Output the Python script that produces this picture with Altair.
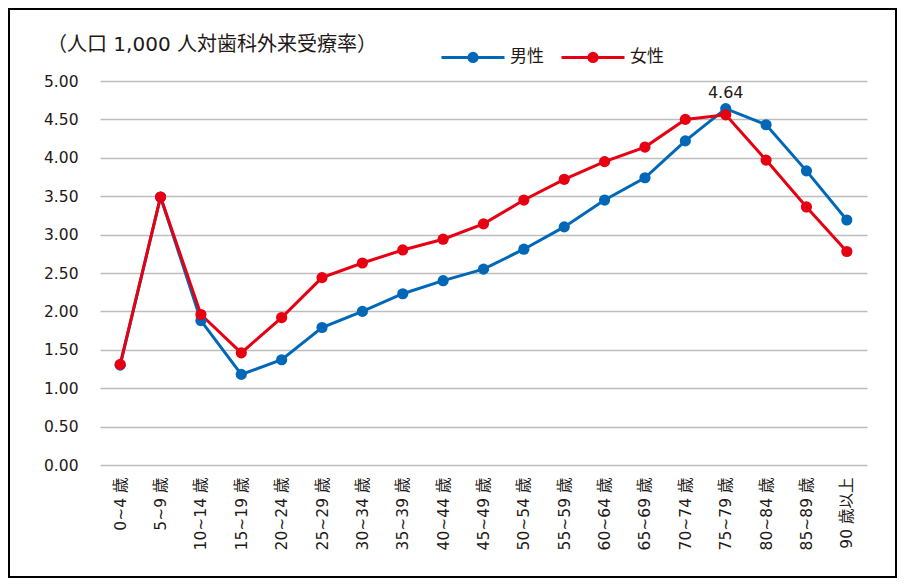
import altair as alt
import pandas as pd

ages = ["0~4 歳", "5~9 歳", "10~14 歳", "15~19 歳", "20~24 歳", "25~29 歳",
        "30~34 歳", "35~39 歳", "40~44 歳", "45~49 歳", "50~54 歳", "55~59 歳",
        "60~64 歳", "65~69 歳", "70~74 歳", "75~79 歳", "80~84 歳", "85~89 歳",
        "90 歳以上"]
male = [1.30, 3.49, 1.88, 1.18, 1.37, 1.79, 2.00, 2.23, 2.40, 2.55, 2.81, 3.10,
        3.45, 3.74, 4.22, 4.64, 4.43, 3.83, 3.19]
female = [1.31, 3.49, 1.96, 1.46, 1.92, 2.44, 2.63, 2.80, 2.94, 3.14, 3.45, 3.72,
          3.95, 4.14, 4.50, 4.56, 3.97, 3.36, 2.78]
series = ["男性", "女性"]
colors = ["#0068b7", "#e60012"]
y_ticks = [0.0, 0.5, 1.0, 1.5, 2.0, 2.5, 3.0, 3.5, 4.0, 4.5, 5.0]
title_text = "（人口 1,000 人対歯科外来受療率）"
label_age = "75~79 歳"
label_series = "男性"

rows = []
for s, vals in zip(series, [male, female]):
    for a, v in zip(ages, vals):
        rows.append({"age": a, "sex": s, "value": v})
df = pd.DataFrame(rows)

FONT = "DejaVu Sans, Noto Sans CJK JP, sans-serif"
LFONT = "Noto Sans CJK JP, sans-serif"
TXT = "#231815"
SYMBOL = "M-1,0H1M0.13,0A0.13,0.13,0,1,1,-0.13,0A0.13,0.13,0,1,1,0.13,0Z"


def make_legend():
    return alt.Legend(title=None, orient="none", legendX=340, legendY=-57,
                      direction="horizontal", symbolType=SYMBOL,
                      symbolSize=3969, symbolStrokeWidth=3, symbolOpacity=1,
                      labelFontSize=17, labelFont=LFONT, labelColor=TXT,
                      labelOffset=4, columnPadding=11, padding=0)


x_enc = alt.X("age:N", sort=ages, scale=alt.Scale(domain=ages),
              axis=alt.Axis(title=None, labelAngle=-90, labelPadding=12,
                            ticks=False, domain=False, grid=False,
                            labelFontSize=15.5, labelFont=FONT, labelColor=TXT))
y_enc = alt.Y("value:Q", scale=alt.Scale(domain=[0, 5], nice=False),
              axis=alt.Axis(title=None, values=y_ticks, format=".2f",
                            ticks=False, domain=False, labelPadding=22,
                            grid=True, gridColor="#bdbdbd", gridWidth=1.6,
                            labelFontSize=15.5, labelFont=FONT, labelColor=TXT))

base = alt.Chart(df)

lines = base.mark_line(strokeWidth=3).encode(
    x=x_enc, y=y_enc,
    stroke=alt.Stroke("sex:N", scale=alt.Scale(domain=series, range=colors),
                      legend=make_legend()),
)

points = base.mark_point(filled=True, size=125, opacity=1).encode(
    x=x_enc, y=y_enc,
    fill=alt.Fill("sex:N", scale=alt.Scale(domain=series, range=colors),
                  legend=make_legend()),
)

label = base.mark_text(baseline="bottom", dy=-8, fontSize=16, font=FONT, color=TXT).encode(
    x=x_enc, y=y_enc, text=alt.Text("value:Q", format=".2f"),
).transform_filter(
    (alt.datum.age == label_age) & (alt.datum.sex == label_series)
)

frame = alt.Chart(pd.DataFrame({"f": [0]})).mark_rect(
    fill=None, stroke="#000000", strokeWidth=2
).encode(x=alt.value(-91), x2=alt.value(767 + 29), y=alt.value(-72), y2=alt.value(384 + 112))

chart = alt.layer(frame, lines, points, label).properties(
    width=767, height=384,
    autosize=alt.AutoSizeParams(type="none"),
    padding={"left": 92, "top": 73, "right": 30, "bottom": 113},
    title=alt.TitleParams(title_text, anchor="start", frame="group", dx=-53, dy=47,
                          fontSize=20, font=FONT, fontWeight="normal", color=TXT,
                          offset=0),
).configure_view(stroke=None)

chart.save("out.html", embed_options={"renderer": "svg", "actions": False})
